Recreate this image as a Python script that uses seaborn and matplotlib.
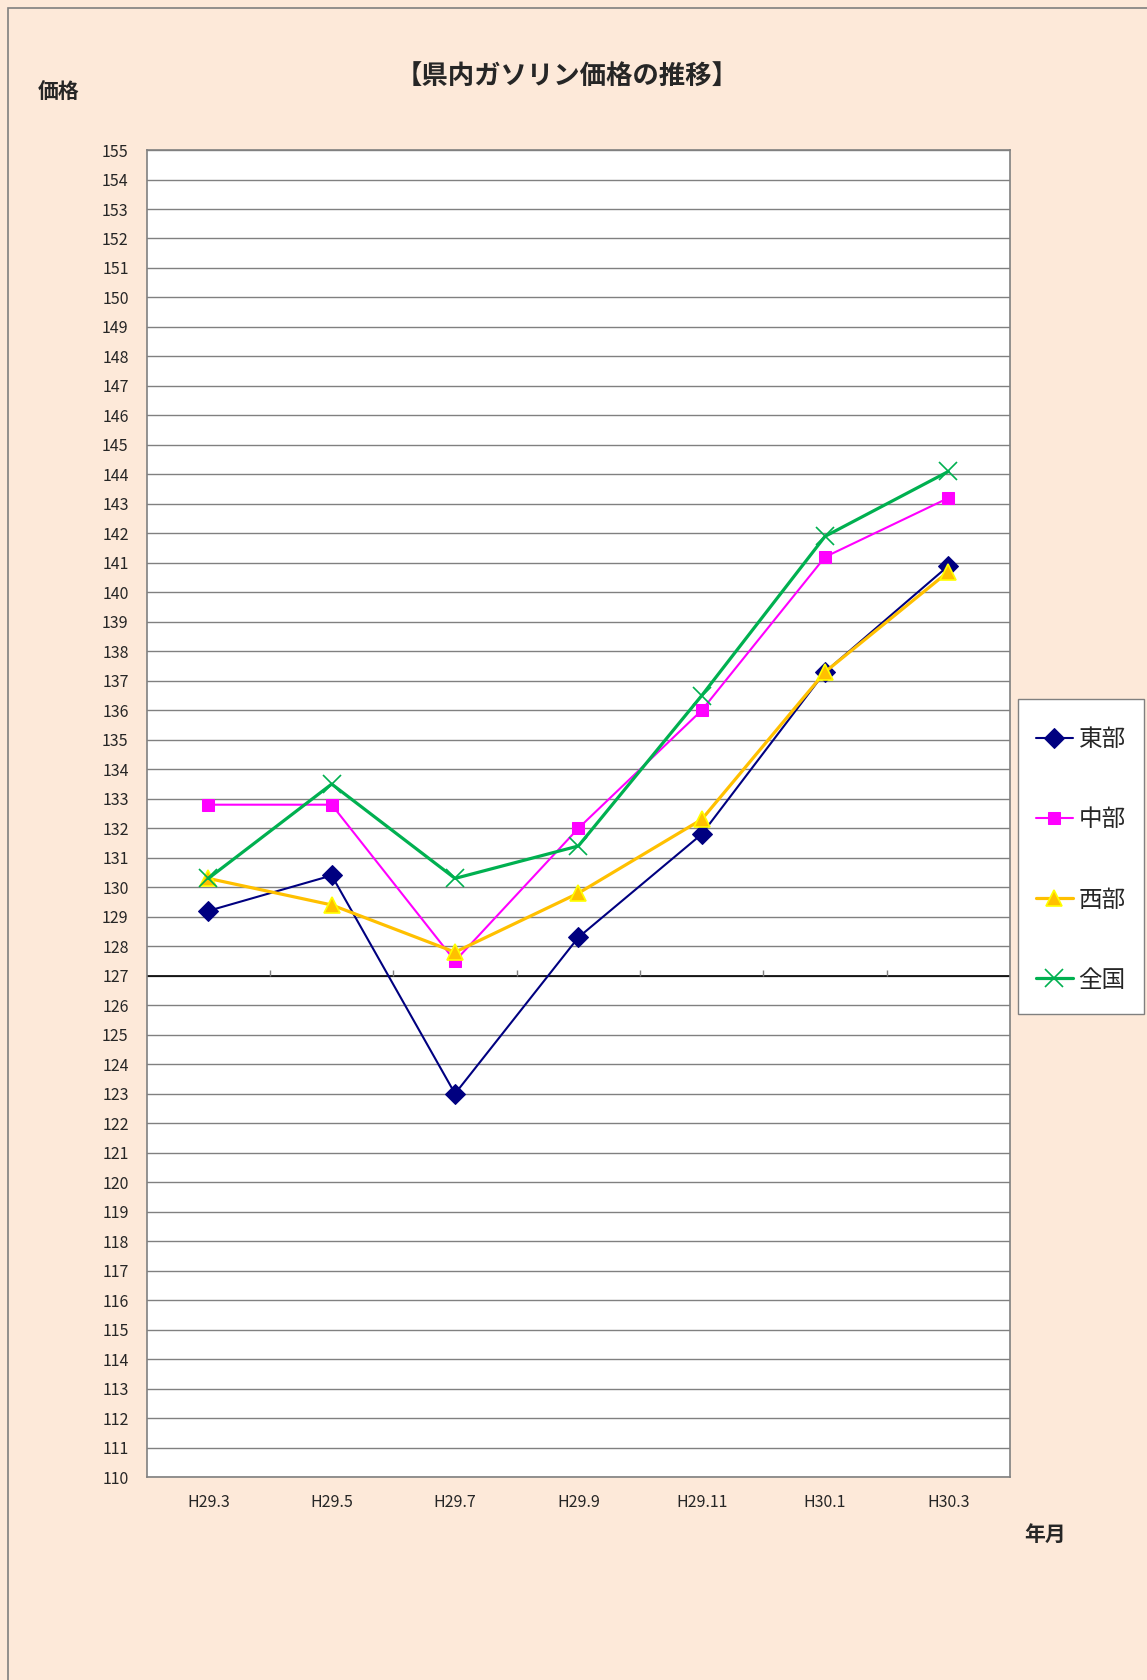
"""県内ガソリン価格の推移 line chart"""
import matplotlib.pyplot as plt
import matplotlib.patches as mpatches
import numpy as np
import pandas as pd
import seaborn as sns

months = ["H29.3", "H29.5", "H29.7", "H29.9", "H29.11", "H30.1", "H30.3"]
east = [129.2, 130.4, 123.0, 128.3, 131.8, 137.3, 140.9]
central = [132.8, 132.8, 127.5, 132.0, 136.0, 141.2, 143.2]
west = [130.3, 129.4, 127.8, 129.8, 132.3, 137.3, 140.7]
nation = [130.3, 133.5, 130.3, 131.4, 136.5, 141.9, 144.1]
series_names = ["東部", "中部", "西部", "全国"]

BG = "#FDE9D9"

if __name__ == "__main__":
    sns.set_style("white")
    plt.rcParams["font.family"] = ["Noto Sans CJK JP", "DejaVu Sans"]

    data = pd.DataFrame(
        {
            "pos": list(range(len(months))) * 4,
            "price": east + central + west + nation,
            "area": np.repeat(series_names, len(months)),
        }
    )

    styles = {
        "東部": dict(color="#000080", marker="D", markersize=10, linewidth=1.5,
                   markeredgecolor="#000080"),
        "中部": dict(color="#FF00FF", marker="s", markersize=9, linewidth=1.5,
                   markeredgecolor="#FF00FF"),
        "西部": dict(color="#FFC000", marker="^", markersize=12, linewidth=2.3,
                   markeredgecolor="#FFFF00", markeredgewidth=1.2),
        "全国": dict(color="#00B050", marker="x", markersize=13, linewidth=2.3,
                   markeredgecolor="#00B050", markeredgewidth=1.2),
    }

    f = plt.figure(figsize=(11.47, 16.8), dpi=100, facecolor=BG)
    f.patches.append(
        mpatches.Rectangle((8 / 1147, -0.1), 1.2, 1.1 - 8 / 1680, transform=f.transFigure,
                           fill=False, edgecolor="#808080", linewidth=1.2)
    )
    ax = f.add_axes([0.1279, 0.1208, 0.7527, 0.7899])
    ax.set_facecolor("white")

    for name in series_names:
        sub = data[data["area"] == name]
        sns.lineplot(sub, x="pos", y="price", ax=ax, label=name, **styles[name])

    ax.set_xlim(-0.5, len(months) - 0.5)
    ax.set_ylim(110, 155)
    ax.set_yticks(np.arange(110, 156, 1))
    ax.set_xticks(range(len(months)))
    ax.set_xticklabels(months)
    ax.tick_params(axis="both", length=0, labelsize=11.5, pad=13)
    ax.tick_params(axis="x", pad=12)
    ax.yaxis.grid(True, color="#808080", linewidth=1.0)
    ax.set_axisbelow(True)
    for sp in ax.spines.values():
        sp.set_color("#808080")
        sp.set_linewidth(1.2)

    # category axis crosses at 127
    ax.axhline(127, color="black", linewidth=1.2, zorder=1.5)
    bounds = np.arange(len(months) - 1) + 0.5
    ax.vlines(bounds, 127, 127.2, color="#808080", linewidth=1.0, zorder=1.5)

    ax.set_xlabel("")
    ax.set_ylabel("")
    f.text(567 / 1147, 1 - 77 / 1680, "【県内ガソリン価格の推移】", ha="center",
           va="center", fontsize=19, fontweight="bold")
    f.text(59 / 1147, 1 - 92 / 1680, "価格", ha="center", va="center",
           fontsize=15, fontweight="bold")
    f.text(1045 / 1147, 1 - 1534 / 1680, "年月", ha="center", va="center",
           fontsize=15, fontweight="bold")

    # legend box
    f.patches.append(
        mpatches.Rectangle((1018 / 1147, 1 - 1014 / 1680), 126 / 1147, 315 / 1680,
                           transform=f.transFigure, facecolor="white",
                           edgecolor="#808080", linewidth=1.0)
    )
    handles, labels = ax.get_legend_handles_labels()
    ax.get_legend().remove()
    f.legend(
        handles, labels, loc="center", bbox_to_anchor=(1081 / 1147, 1 - 860 / 1680),
        fontsize=17, frameon=False, labelspacing=2.42, handlelength=1.55,
        handletextpad=0.25, borderpad=0, borderaxespad=0,
    )

    out = "out.png"
    print(f"plot to {out}")
    f.savefig(out, dpi=100, facecolor=BG)
